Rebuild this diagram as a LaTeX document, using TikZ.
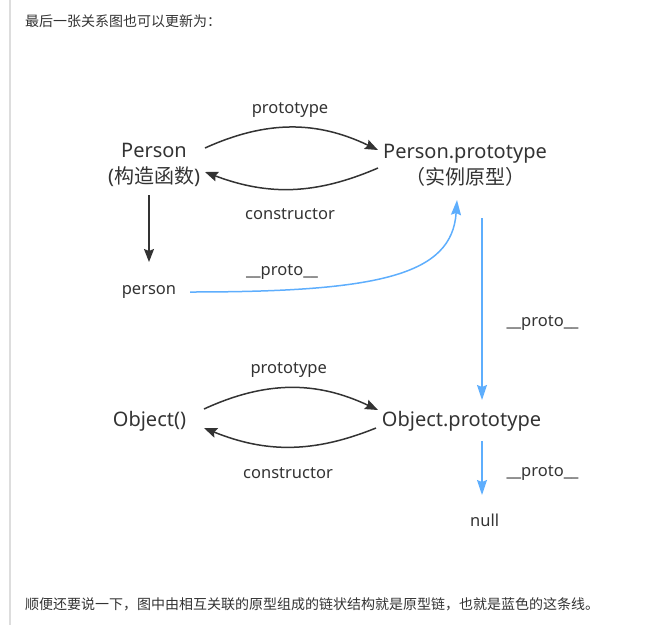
\documentclass[tikz,border=0pt]{standalone}
\usepackage{fontspec}
\setmainfont{Noto Sans}
\newfontfamily\cjk{Noto Sans CJK SC}
\usetikzlibrary{arrows.meta}
\definecolor{txt}{HTML}{333333}
\definecolor{chain}{HTML}{5EAEFD}
\definecolor{rule}{HTML}{DDDDDD}
\tikzset{
  big/.style={inner sep=0pt, text=txt, font=\fontsize{20}{26}\selectfont, align=center},
  small/.style={inner sep=0pt, text=txt, font=\fontsize{16.5}{20}\selectfont},
  note/.style={inner sep=0pt, text=txt, font=\cjk\fontsize{14}{16}\selectfont, anchor=west},
  link/.style={draw=txt, line width=1.5pt, -{Stealth[length=13pt,width=10pt,inset=2pt]}},
  chainlink/.style={draw=chain, line width=1.5pt, -{Stealth[length=15pt,width=10pt,inset=2pt]}},
}
\begin{document}
\begin{tikzpicture}[x=1pt,y=1pt]
\useasboundingbox (0,0) rectangle (670,-625);
\draw[rule, line width=2pt] (9.5,0) -- (9.5,-625);
\node[note] (intro) at (25,-21) {最后一张关系图也可以更新为：};
\node[note] (outro) at (25,-604) {顺便还要说一下，图中由相互关联的原型组成的链状结构就是原型链，也就是蓝色的这条线。};

% the objects
\node[big] (Person) at (154,-165) {Person\\({\cjk 构造函数})};
\node[big] (PersonProto) at (465,-165) {Person.prototype\\{\cjk （实例原型）}};
\node[small, anchor=base] (person) at (149,-294) {person};
\node[big, anchor=base] (Object) at (149.5,-426) {Object()};
\node[big, anchor=base] (ObjectProto) at (461.5,-426) {Object.prototype};
\node[small, anchor=base] (null) at (484.7,-526.7) {null};

% the labels
\node[small, anchor=base] (protoA) at (290,-113) {prototype};
\node[small, anchor=base] (ctorA) at (290,-219.3) {constructor};
\node[small, anchor=base] (linkA) at (282,-275.5) {\_\_proto\_\_};
\node[small, anchor=base] (linkB) at (542.5,-326.7) {\_\_proto\_\_};
\node[small, anchor=base] (protoB) at (288.7,-373.3) {prototype};
\node[small, anchor=base] (ctorB) at (288,-478.3) {constructor};
\node[small, anchor=base] (linkC) at (542.5,-476.7) {\_\_proto\_\_};

% arrows
\draw[link] ([shift={(51,17)}]Person.center) to[bend left=25] ([shift={(-87,15)}]PersonProto.center);
\draw[link] ([shift={(-87,-3)}]PersonProto.center) to[bend left=22] ([shift={(51,-7)}]Person.center);
\draw[link] ([shift={(-5,-30)}]Person.center) -- ([shift={(0,32)}]person.base);
\draw[chainlink] ([shift={(41,2)}]person.base) .. controls +(190,0) and +(-5,-75) .. ([shift={(-8,-35)}]PersonProto.center);
\draw[chainlink] ([shift={(17,-53)}]PersonProto.center) -- ([shift={(20.5,26)}]ObjectProto.base);
\draw[link] ([shift={(54.5,17)}]Object.base) to[bend left=25] ([shift={(-83.5,16)}]ObjectProto.base);
\draw[link] ([shift={(-85.5,-2)}]ObjectProto.base) to[bend left=22] ([shift={(54.5,-2)}]Object.base);
\draw[chainlink] ([shift={(20.5,-15)}]ObjectProto.base) -- ([shift={(-2.7,31.7)}]null.base);
\end{tikzpicture}
\end{document}
